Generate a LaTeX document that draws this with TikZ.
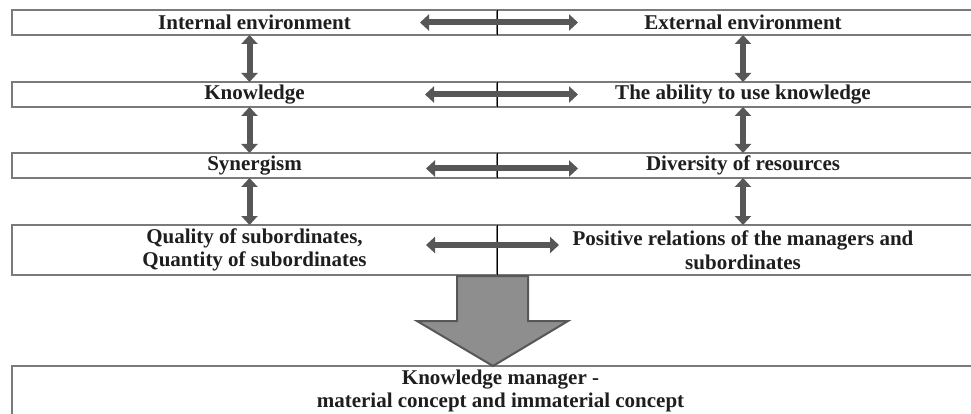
\documentclass[tikz,border=0pt]{standalone}
\usepackage{fontspec}
\setmainfont{Liberation Serif}
\usetikzlibrary{arrows.meta}
\definecolor{arrowgray}{HTML}{575757}
\definecolor{boxgray}{HTML}{7A7A7A}
\definecolor{bigfill}{HTML}{8E8E8E}
\definecolor{inkgray}{HTML}{1E1E1E}
\tikzset{
  cell/.style={draw=boxgray, line width=1.3pt, inner sep=0pt, outer sep=0pt,
    minimum height=25pt, text=inkgray, align=center,
    font=\fontsize{21pt}{23.5pt}\selectfont\bfseries},
  lcell/.style={cell, minimum width=485pt},
  rcell/.style={cell, minimum width=492pt},
  link/.style={arrowgray, line width=6pt,
    {Triangle[width=16pt,length=9pt]}-{Triangle[width=16pt,length=9pt]}},
}
\begin{document}
\begin{tikzpicture}[x=1pt, y=-1pt]
        \clip (0,0) rectangle (971,414);
        \fill[white] (0,0) rectangle (971,414);

        % Rows of the table
        \node[lcell] (int) at (254.5,22.5) {Internal environment};
        \node[rcell] (ext) at (743,22.5) {External environment};
        \node[lcell] (know) at (254.5,94.5) {Knowledge};
        \node[rcell] (use) at (743,94.5) {The ability to use knowledge};
        \node[lcell] (syn) at (254.5,165.5) {Synergism};
        \node[rcell] (div) at (743,165.5) {Diversity of resources};
        \node[lcell, minimum height=50pt] (qual) at (254.5,250)
          {Quality of subordinates,\\Quantity of subordinates};
        \node[rcell, minimum height=50pt] (pos) at (743,250)
          {Positive relations of the managers and\\subordinates};

        % Middle line
        \foreach \a in {int,know,syn,qual}
          \draw[black, line width=0.8pt] (\a.north east) -- (\a.south east);

        % Arrows between the two columns
        \draw[link] ([xshift=-77pt]int.east) -- ([xshift=81pt]ext.west);
        \draw[link] ([xshift=-72pt]know.east) -- ([xshift=81pt]use.west);
        \draw[link] ([xshift=-71pt,yshift=-3pt]syn.east) -- ([xshift=81pt,yshift=-3pt]div.west);
        \draw[link] ([xshift=-71pt,yshift=5pt]qual.east) -- ([xshift=62pt,yshift=5pt]pos.west);

        % Arrows between the rows
        \draw[link] ([xshift=-5pt]int.south) -- ([xshift=-5pt]know.north);
        \draw[link] ([xshift=-5pt]know.south) -- ([xshift=-5pt]syn.north);
        \draw[link] ([xshift=-5pt]syn.south) -- ([xshift=-5pt]qual.north);
        \draw[link] (ext.south) -- (use.north);
        \draw[link] (use.south) -- (div.north);
        \draw[link] (div.south) -- (pos.north);

        % Result
        \node[cell, minimum width=977pt, minimum height=50pt] (km) at (500.5,391)
          {Knowledge manager -\\material concept and immaterial concept};
        \draw[draw=arrowgray, fill=bigfill, line width=2pt, line join=miter]
          (457,276) -- (528,276) -- (528,321) -- (568,321) -- (km.north -| 493,0)
          -- (417,321) -- (457,321) -- cycle;
    \end{tikzpicture}
\end{document}
